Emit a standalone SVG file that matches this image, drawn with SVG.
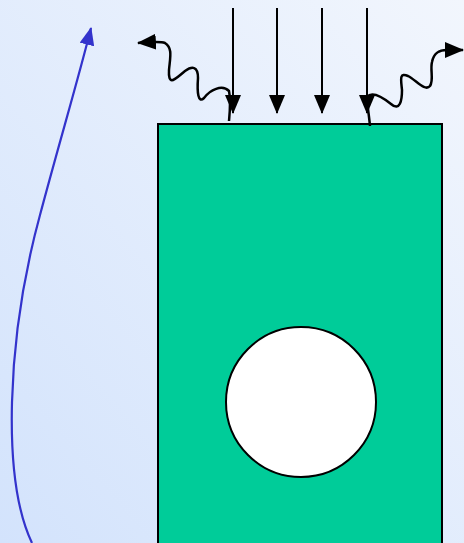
<svg xmlns="http://www.w3.org/2000/svg" width="464" height="543" viewBox="0 0 464 543">
<defs>
<linearGradient id="bg" x1="1" y1="0" x2="0" y2="1">
<stop offset="0" stop-color="#f2f6fd"/>
<stop offset="1" stop-color="#d3e3fc"/>
</linearGradient>
<marker id="ah" viewBox="0 0 19 16" refX="18" refY="8" markerWidth="19" markerHeight="16" markerUnits="userSpaceOnUse" orient="auto">
<path d="M0,0 L19,8 L0,16 Z" fill="#000"/>
</marker>
<marker id="ahb" viewBox="0 0 18 15" refX="17" refY="7.5" markerWidth="18" markerHeight="15" markerUnits="userSpaceOnUse" orient="auto">
<path d="M0,0 L18,7.5 L0,15 Z" fill="#3333cc"/>
</marker>
<style>
.ray{stroke:#000;stroke-width:2;fill:none;marker-end:url(#ah)}
.wave{stroke:#000;stroke-width:2.5;fill:none;marker-end:url(#ah)}
</style>
</defs>
<rect width="464" height="543" fill="url(#bg)"/>
<g id="block">
<rect x="158" y="124" width="284" height="430" fill="#00cc99" stroke="#000" stroke-width="2"/>
</g>
<g id="hole">
<circle cx="301" cy="402" r="75" fill="#fff" stroke="#000" stroke-width="2"/>
</g>
<g id="connectors">
<path class="ray" d="M233,8 L233,113"/>
<path class="ray" d="M277,8 L277,113"/>
<path class="ray" d="M322,8 L322,113"/>
<path class="ray" d="M367,8 L367,113"/>
<path class="wave" d="M229,121 C230,110 231,100 229,91 C222,84 210,90 204,98 C198,104 197,92 198,78 C198,66 192,66 185,71 C176,78 168,88 169,70 C170,58 173,48 165,43 C160,41 152,42 138,43"/>
<path class="wave" d="M370,126 C369,115 367,104 367,97 C372,91 381,96 391,104 C400,112 402,100 402,90 C401,80 399,72 408,76 C416,80 425,92 430,86 C434,80 430,70 432,62 C434,52 440,50 447,50 L463,50"/>
<path d="M32,543 C2,480 6,340 40,215 C60,140 78,80 91,28" fill="none" stroke="#3333cc" stroke-width="2.2" marker-end="url(#ahb)"/>
</g>
</svg>
